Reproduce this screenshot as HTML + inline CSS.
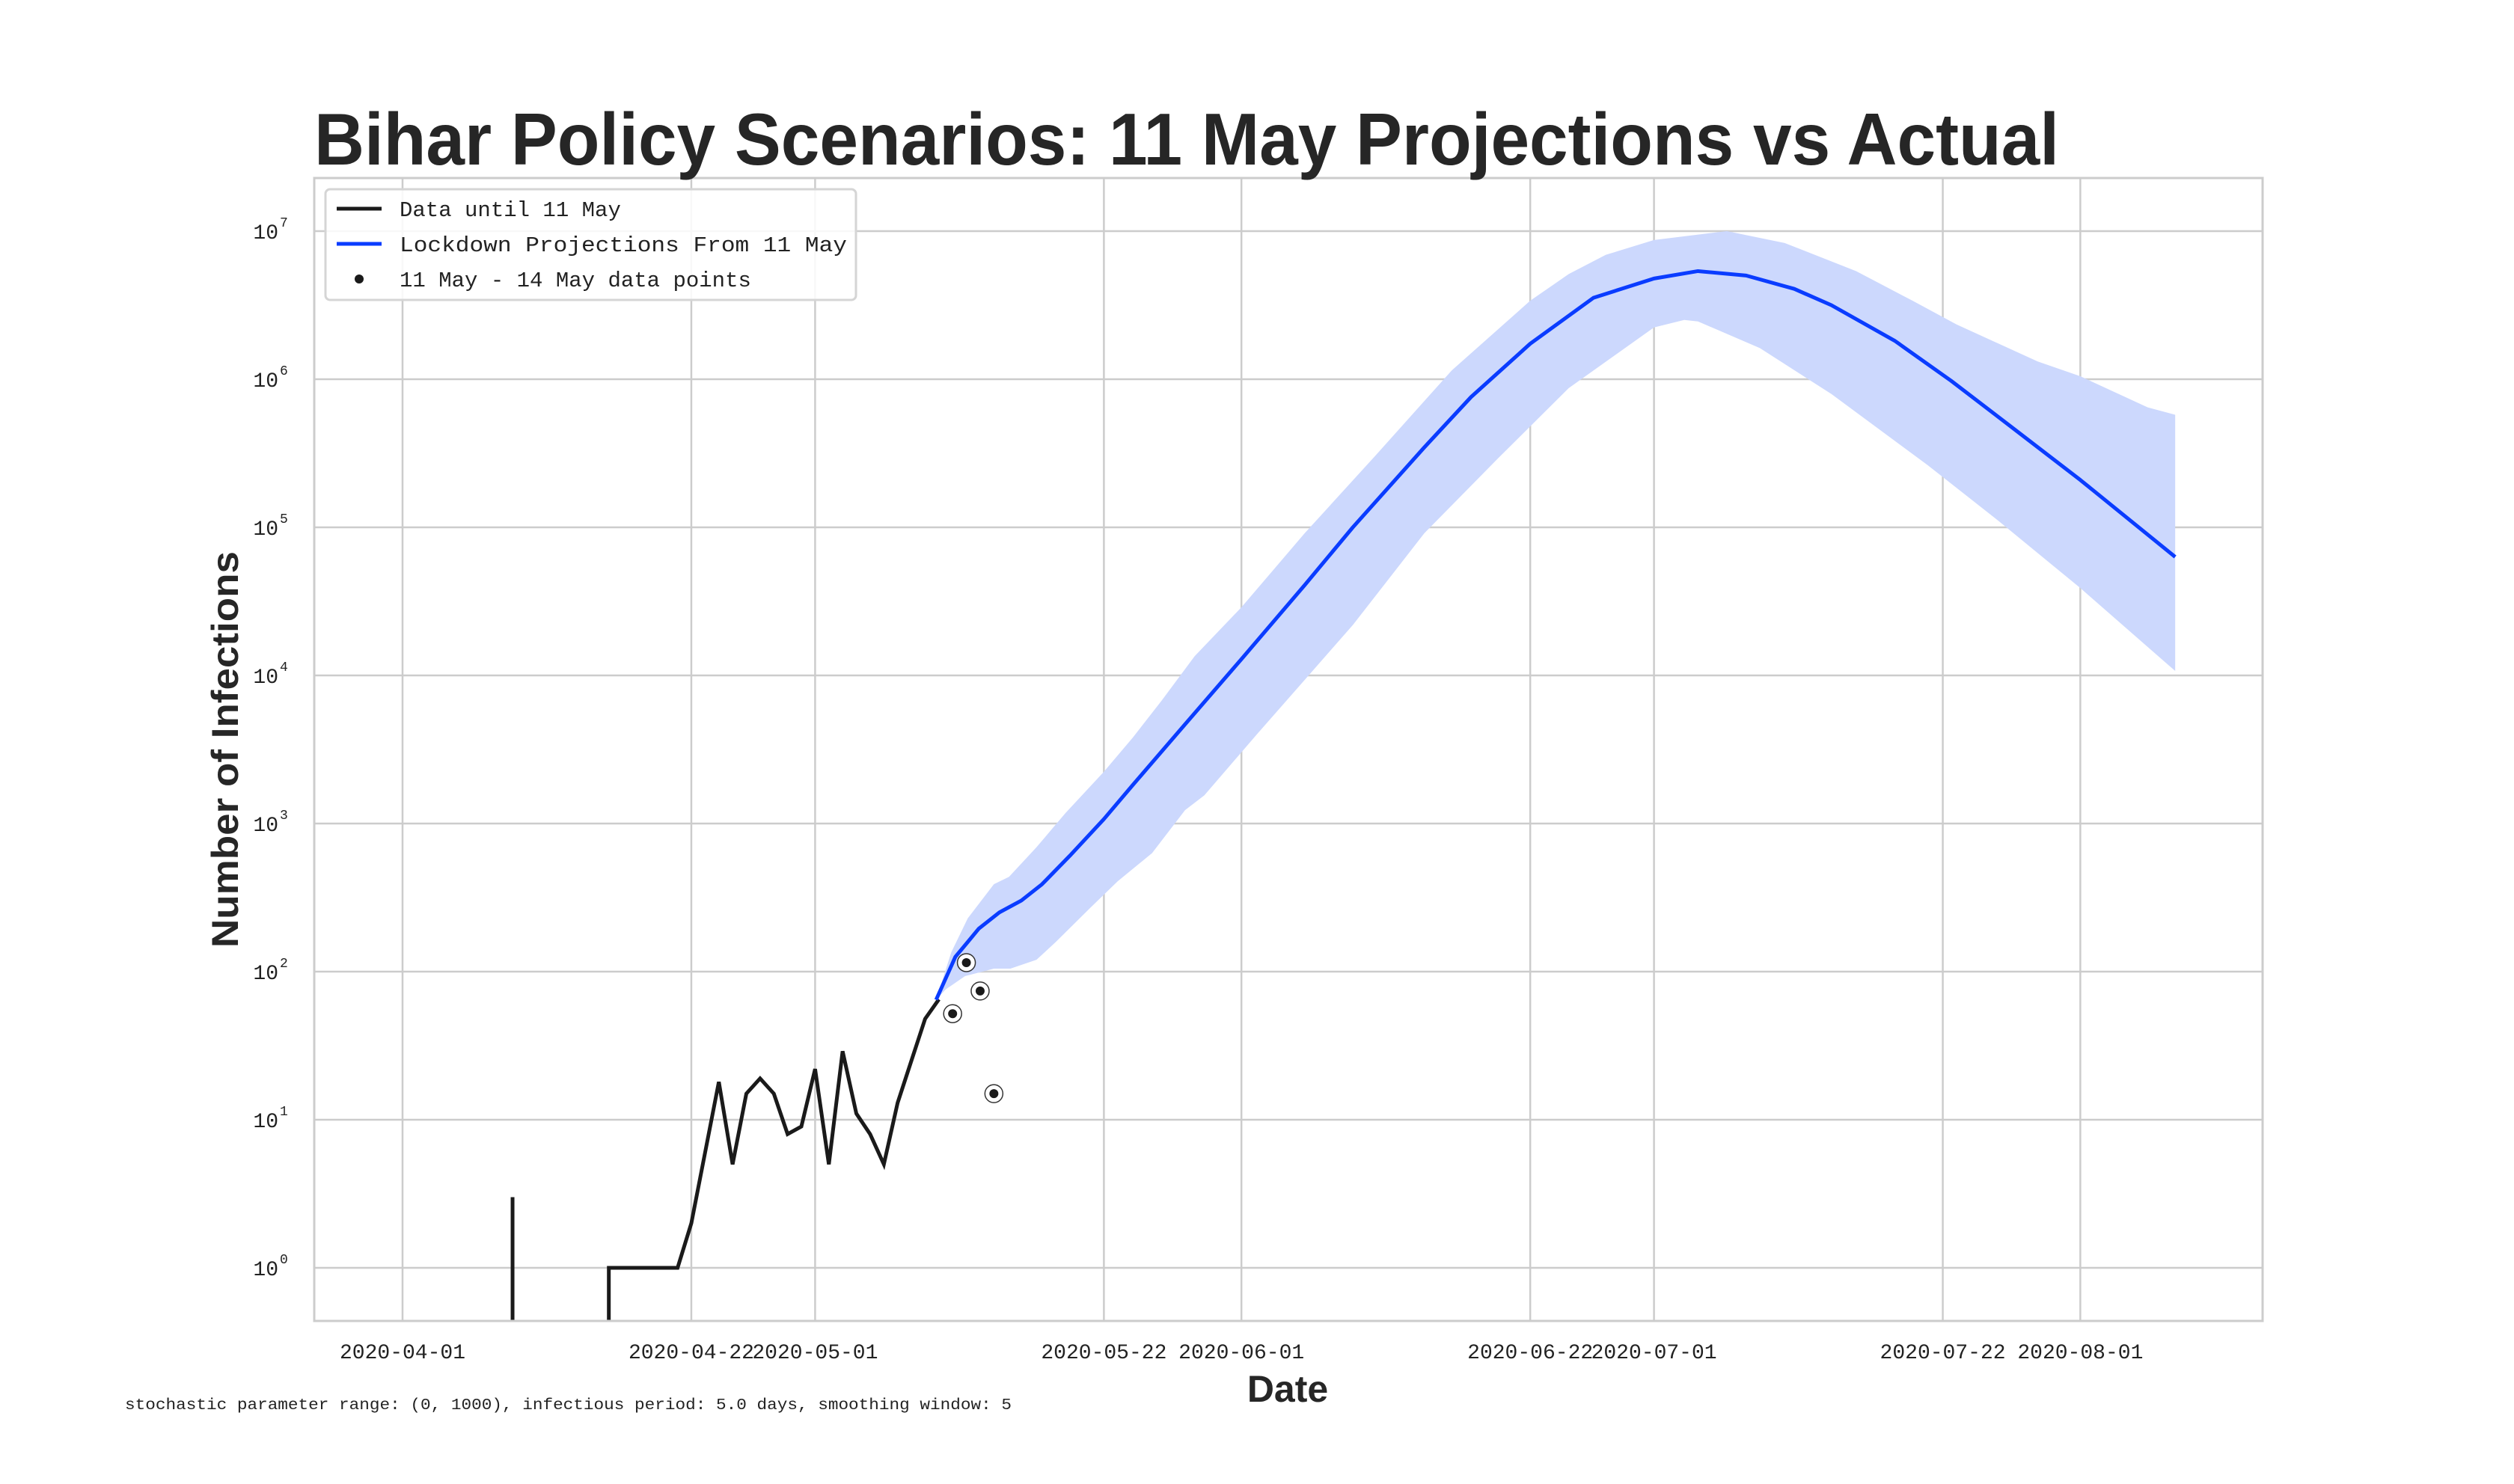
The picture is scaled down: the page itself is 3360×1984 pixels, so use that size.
<!DOCTYPE html>
<html><head><meta charset="utf-8"><style>
html,body{margin:0;padding:0;background:#fff;width:3360px;height:1984px;overflow:hidden;}
svg{display:block;overflow:hidden;}
.mono{font-family:"Liberation Mono","DejaVu Sans Mono",monospace;fill:#222;}
.sans{font-family:"Liberation Sans",sans-serif;fill:#262626;font-weight:bold;}
</style></head><body>
<svg id="chart" width="3360" height="1984" viewBox="0 0 3360 1984" xmlns="http://www.w3.org/2000/svg">
<defs><clipPath id="plotclip"><rect x="420" y="238" width="2604" height="1528"/></clipPath></defs>
<rect x="0" y="0" width="3360" height="1984" fill="#fff"/>
<g id="grid"></g>
<g id="band" clip-path="url(#plotclip)"></g>
<g id="lines" clip-path="url(#plotclip)"></g>
<g id="ticks"></g>
<rect x="420" y="238" width="2604" height="1528" fill="none" stroke="#cccccc" stroke-width="3"/>
<text x="420" y="220" class="sans" font-size="98" textLength="2332" lengthAdjust="spacingAndGlyphs">Bihar Policy Scenarios: 11 May Projections vs Actual</text>
<text transform="translate(318,1002) rotate(-90)" text-anchor="middle" class="sans" font-size="50" textLength="530" lengthAdjust="spacingAndGlyphs">Number of Infections</text>
<text x="1721" y="1874" text-anchor="middle" class="sans" font-size="50">Date</text>
<text x="167" y="1884" class="mono" font-size="21" textLength="1185" lengthAdjust="spacingAndGlyphs">stochastic parameter range: (0, 1000), infectious period: 5.0 days, smoothing window: 5</text>
<g>
<rect x="435" y="253" width="709" height="148" rx="6" fill="#fff" fill-opacity="0.85" stroke="#d5d5d5" stroke-width="3"/>
<line x1="450" y1="279" x2="510" y2="279" stroke="#1a1a1a" stroke-width="5"/>
<text x="534" y="289" class="mono" font-size="29">Data until 11 May</text>
<line x1="450" y1="326" x2="510" y2="326" stroke="#0a3cff" stroke-width="5"/>
<text x="534" y="336" class="mono" font-size="29" textLength="598" lengthAdjust="spacingAndGlyphs">Lockdown Projections From 11 May</text>
<circle cx="480" cy="373" r="6" fill="#1a1a1a"/>
<text x="534" y="383" class="mono" font-size="29">11 May - 14 May data points</text>
</g>
<g id="dots"></g>
</svg>
<script>
// days since 2020-04-01
const xTickLabels = ["2020-04-01","2020-04-22","2020-05-01","2020-05-22","2020-06-01","2020-06-22","2020-07-01","2020-07-22","2020-08-01"];
const xTickDays = [0,21,30,51,61,82,91,112,122];
const yTickExps = [0,1,2,3,4,5,6,7];
const dataDays = [7,8,9,10,11,12,13,14,15,16,17,18,19,20,21,22,23,24,25,26,27,28,29,30,31,32,33,34,35,36,37,38,39];
const dataVals = [0,3,0,0,0,0,0,0,1,1,1,1,1,1,2,6,18,5,15,19,15,8,9,22,5,29,11,8,5,13,25,48,65];
const pointDays = [40,41,42,43];
const pointVals = [52,115,74,15];
// projection values as log10(infections)
const projDays = [38.8,40.2,41.1,41.9,43.4,45.0,46.5,48.6,51,53.1,56.9,61,65.6,69.1,74.3,77.7,82,86.6,91,94.2,97.7,101.2,103.9,108.5,112.6,117.1,122,128.9];
const projLog10 = [1.81,2.10,2.20,2.29,2.40,2.48,2.59,2.79,3.03,3.26,3.67,4.11,4.61,5.0,5.54,5.88,6.24,6.55,6.68,6.73,6.70,6.61,6.50,6.26,5.99,5.67,5.32,4.80];
const upperDays = [38.8,39.9,41.1,43.0,44.1,46.1,48.2,51,53.1,55.2,57.6,61,65.6,70.8,76.3,82,84.8,87.5,91,96.3,100.5,105.7,109.8,113,118.9,122,126.9,128.9];
const upperLog10 = [1.81,2.13,2.36,2.59,2.64,2.84,3.07,3.35,3.58,3.83,4.13,4.46,4.96,5.49,6.06,6.53,6.71,6.84,6.94,7.0,6.92,6.73,6.53,6.37,6.12,6.02,5.81,5.76];
const lowerDays = [38.8,39.5,40.9,43.0,44.2,46.1,47.5,50,52,54.5,56.9,58.3,62.1,65.6,69.1,74.3,79.6,84.8,91,93.2,94.2,98.7,103.9,110.9,116.1,122,128.9];
const lowerLog10 = [1.81,1.88,1.97,2.02,2.02,2.08,2.20,2.43,2.61,2.80,3.09,3.19,3.60,3.97,4.34,4.96,5.46,5.94,6.35,6.40,6.39,6.21,5.90,5.42,5.04,4.59,4.03];

const X0=538, PXD=18.38, Y0=1695, PXDEC=198;
const PL=420, PR=3024, PT=238, PB=1766;
function xs(d){return X0+d*PXD;}
function yl(l){return Y0-l*PXDEC;}
function ys(v){return yl(Math.log10(v));}
const NS="http://www.w3.org/2000/svg";
function mk(tag,parent,attrs){const e=document.createElementNS(NS,tag);for(const k in attrs)e.setAttribute(k,attrs[k]);parent.appendChild(e);return e;}
const grid=document.getElementById('grid'), ticks=document.getElementById('ticks');
xTickDays.forEach((d,i)=>{
  const l=mk('line',grid,{x1:xs(d),x2:xs(d),y1:PT,y2:PB,stroke:'#cccccc','stroke-width':2.5});
  
  
  const t=mk('text',ticks,{x:xs(d),y:1816,'text-anchor':'middle','class':'mono','font-size':28});
  t.textContent=xTickLabels[i];
  
  
});
yTickExps.forEach(e=>{
  const y=yl(e);
  const l=mk('line',grid,{x1:PL,x2:PR,y1:y,y2:y,stroke:'#cccccc','stroke-width':2.5});
  
  
  const t=mk('text',ticks,{x:372,y:y+10,'text-anchor':'end','class':'mono','font-size':28});
  t.textContent='10';
  
  
  const s=mk('text',ticks,{x:374,y:y-6,'class':'mono','font-size':18});
  s.textContent=String(e);
  
  
});
let bp=upperDays.map((d,i)=>(i?'L':'M')+xs(d)+','+yl(upperLog10[i])).join('');
for(let i=lowerDays.length-1;i>=0;i--) bp+='L'+xs(lowerDays[i])+','+yl(lowerLog10[i]);
const band=mk('path',document.getElementById('band'),{d:bp+'Z',fill:'#ccd8fd',stroke:'none'});


const lines=document.getElementById('lines');
// data line: zero values drop vertically to the bottom of the axes (log scale)
let dp='', prevZero=true, prevX=null;
dataDays.forEach((d,i)=>{
  const v=dataVals[i], x=xs(d);
  if(v>0){
    if(prevZero) dp+='M'+x+','+(PB+4)+'L'+x+','+ys(v);
    else dp+='L'+x+','+ys(v);
    prevZero=false;
  } else {
    if(!prevZero && prevX!==null) dp+='L'+prevX+','+(PB+4);
    prevZero=true;
  }
  prevX=x;
});
const dl=mk('path',lines,{d:dp,fill:'none',stroke:'#1a1a1a','stroke-width':5,'stroke-linejoin':'miter'});


const pl=mk('path',lines,{d:projDays.map((d,i)=>(i?'L':'M')+xs(d)+','+yl(projLog10[i])).join(''),fill:'none',stroke:'#0a3cff','stroke-width':5,'stroke-linejoin':'round'});


const dots=document.getElementById('dots');
pointDays.forEach((d,i)=>{
  const c=mk('circle',dots,{cx:xs(d),cy:ys(pointVals[i]),r:12,fill:'#fff',stroke:'#333','stroke-width':1.5});
  
  
  const c2=mk('circle',dots,{cx:xs(d),cy:ys(pointVals[i]),r:6,fill:'#1a1a1a'});
  
  
});
</script>
</body></html>
